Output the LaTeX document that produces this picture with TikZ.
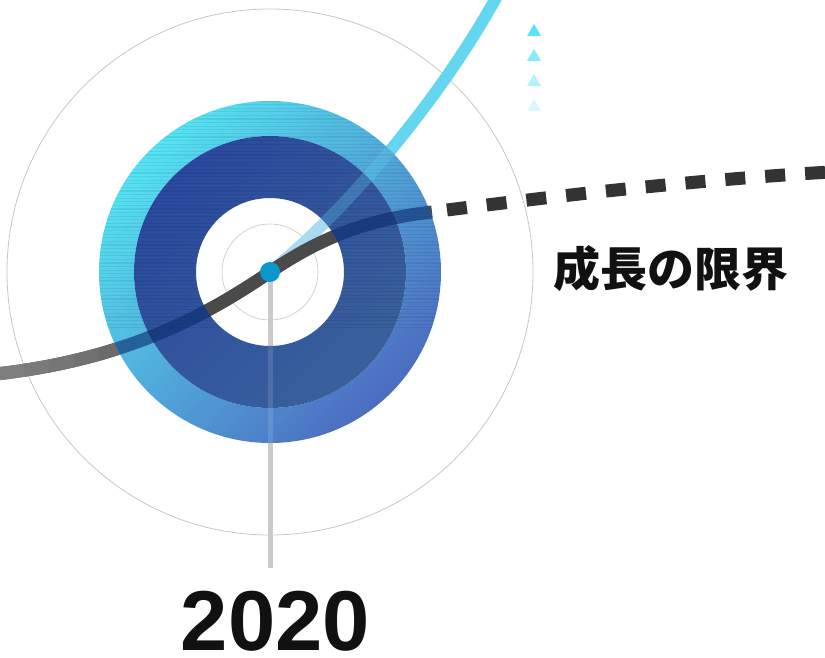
\documentclass[tikz,border=0pt]{standalone}
\usepackage{fontspec}
\setmainfont{Liberation Sans}
\newfontfamily\jpfont{Noto Sans CJK JP}
\definecolor{ringA}{HTML}{55E4F3}
\definecolor{ringM}{HTML}{4AA6DC}
\definecolor{ringB}{HTML}{4C6CC0}
\definecolor{darkA}{HTML}{2A4A9E}
\definecolor{darkB}{HTML}{3A609C}
\definecolor{cyanline}{HTML}{64D6EF}
\definecolor{cyanpale}{HTML}{A9DAF1}
\definecolor{grayline}{HTML}{4A4A4A}
\definecolor{dashgray}{HTML}{333333}
\definecolor{navyover}{HTML}{0A2C6E}
\definecolor{dotblue}{HTML}{0B97CC}
\definecolor{thingray}{HTML}{C6C6C6}
\definecolor{stemgray}{HTML}{CACACA}
\definecolor{txt}{HTML}{111111}
\tikzset{
  bigcirc/.style={draw=thingray, line width=0.8pt},
  stemline/.style={draw=stemgray, line width=5pt},
  cyancurve/.style={draw=cyanline, line width=12pt},
  graycurve/.style={draw=grayline, line width=13pt},
  dashcurve/.style={draw=dashgray, line width=13pt, dash pattern=on 20pt off 20pt},
  tri/.style={inner sep=0pt},
}
\begin{document}
\begin{tikzpicture}[x=1pt,y=-1pt]
\useasboundingbox (0,0) rectangle (825,658);
\coordinate (c) at (270,272);
\coordinate (stemend) at (270,568);
\coordinate (holebottom) at (270,346);
\coordinate (cyend) at (497,-4);
\coordinate (gstart) at (-4,374);
\coordinate (gend) at (432,212);
\coordinate (dstart) at (447,210);
\coordinate (dend) at (830,172);
\def\cyanpath{(c) .. controls (345,212) and (440,100) .. (cyend)}
\def\graypath{(gstart) .. controls (120,360) and (200,320) .. (c) .. controls (330,231) and (380,218) .. (gend)}
% outer thin circle
\draw[bigcirc] (c) circle[radius=263pt];
% stem
\draw[stemline] (c) -- (stemend);
% cyan curve
\draw[cyancurve] \cyanpath;
% hole
\fill[white] (c) circle[radius=74pt];
\draw[thingray, line width=0.6pt] (c) circle[radius=48pt];
\begin{scope}
  \clip (c) circle[radius=74pt];
  \draw[cyancurve, draw=cyanpale] \cyanpath;
  \draw[stemline] (c) -- (holebottom);
\end{scope}
% gray curve
\draw[graycurve] \graypath;
\foreach \xa/\col in {0/7E7E7E, 25/7A7A7A, 50/767676, 75/717171, 100/6B6B6B, 125/646464, 150/5C5C5C}{
  \begin{scope}
    \clip (\xa-1,300) rectangle (\xa+25,400);
    \definecolor{tmpc}{HTML}{\col}
    \draw[graycurve, draw=tmpc] \graypath;
  \end{scope}
}
% dashed continuation
\draw[dashcurve] (dstart) .. controls (550,197) and (680,181) .. (dend);
% rings
\shade[even odd rule, top color=ringA, middle color=ringM, bottom color=ringB, shading angle=45]
  (c) circle[radius=171pt] (c) circle[radius=136pt];
\shade[even odd rule, top color=darkA, bottom color=darkB, shading angle=45]
  (c) circle[radius=136pt] (c) circle[radius=74pt];
% stripes and overlays in the annulus
\begin{scope}[even odd rule]
  \clip (c) circle[radius=171pt] (c) circle[radius=74pt];
  \foreach \yy in {101,104.6,...,330}{
    \draw[black, opacity=0.07, line width=1.1pt] (90,\yy) -- (450,\yy);
  }
  \draw[graycurve, draw=navyover, opacity=0.62] \graypath;
  \draw[cyancurve, opacity=0.28] \cyanpath;
  \draw[stemline, draw=white, opacity=0.12] (c) -- (stemend);
\end{scope}
% centre dot
\node[circle, fill=dotblue, inner sep=0pt, minimum size=20pt] (dot) at (c) {};
% triangles
\foreach \i/\yy/\col in {1/30/5AE4F4, 2/55/85EBF6, 3/80/B2F2F9, 4/105/D9F8FC}{
  \definecolor{tric}{HTML}{\col}
  \node[tri] (tri\i) at (534,\yy) {};
  \fill[tric] ([shift={(-7,6)}]tri\i.center) -- ([shift={(7,6)}]tri\i.center) -- ([shift={(0,-6)}]tri\i.center) -- cycle;
}
% labels
\node[font=\jpfont\bfseries\fontsize{47}{47}\selectfont, text=txt, anchor=west, inner sep=0pt] (limit) at (553,268.5) {成長の限界};
\node[font=\bfseries\fontsize{85}{85}\selectfont, text=txt, anchor=base, inner sep=0pt] (year) at (275.5,650) {2020};
\end{tikzpicture}
\end{document}
